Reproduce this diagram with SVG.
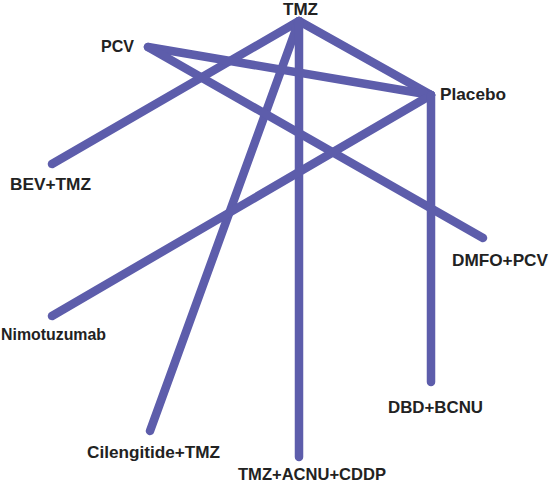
<svg xmlns="http://www.w3.org/2000/svg" width="549" height="490" viewBox="0 0 549 490">
<style>
.e{stroke:#5d5dab;stroke-width:8.5;stroke-linecap:round;stroke-linejoin:round;fill:none}
.t{font-family:"Liberation Sans",Arial,sans-serif;font-weight:bold;font-size:17px;fill:#222}
</style>
<rect width="549" height="490" fill="#fff"/>
<g id="edges">
<line class="e" x1="299" y1="21" x2="431" y2="95"/>
<line class="e" x1="299" y1="21" x2="52" y2="164"/>
<line class="e" x1="299" y1="21" x2="150" y2="431"/>
<line class="e" x1="299" y1="21" x2="299" y2="457"/>
<line class="e" x1="148" y1="47" x2="431" y2="95"/>
<line class="e" x1="148" y1="47" x2="483" y2="238"/>
<line class="e" x1="431" y1="95" x2="52" y2="316"/>
<line class="e" x1="431" y1="95" x2="431" y2="382"/>
</g>
<g id="n-tmz"><text class="t" x="283" y="15" textLength="35" lengthAdjust="spacingAndGlyphs">TMZ</text></g>
<g id="n-pcv"><text class="t" x="101" y="52" textLength="33" lengthAdjust="spacingAndGlyphs">PCV</text></g>
<g id="n-placebo"><text class="t" x="440" y="100" textLength="66" lengthAdjust="spacingAndGlyphs">Placebo</text></g>
<g id="n-bev"><text class="t" x="10" y="190" textLength="81" lengthAdjust="spacingAndGlyphs">BEV+TMZ</text></g>
<g id="n-dmfo"><text class="t" x="452" y="266" textLength="96" lengthAdjust="spacingAndGlyphs">DMFO+PCV</text></g>
<g id="n-nimo"><text class="t" x="1" y="340" textLength="105" lengthAdjust="spacingAndGlyphs">Nimotuzumab</text></g>
<g id="n-dbd"><text class="t" x="388" y="413" textLength="95" lengthAdjust="spacingAndGlyphs">DBD+BCNU</text></g>
<g id="n-cil"><text class="t" x="87" y="458" textLength="133" lengthAdjust="spacingAndGlyphs">Cilengitide+TMZ</text></g>
<g id="n-tmzacnu"><text class="t" x="238" y="480" textLength="148" lengthAdjust="spacingAndGlyphs">TMZ+ACNU+CDDP</text></g>
</svg>
